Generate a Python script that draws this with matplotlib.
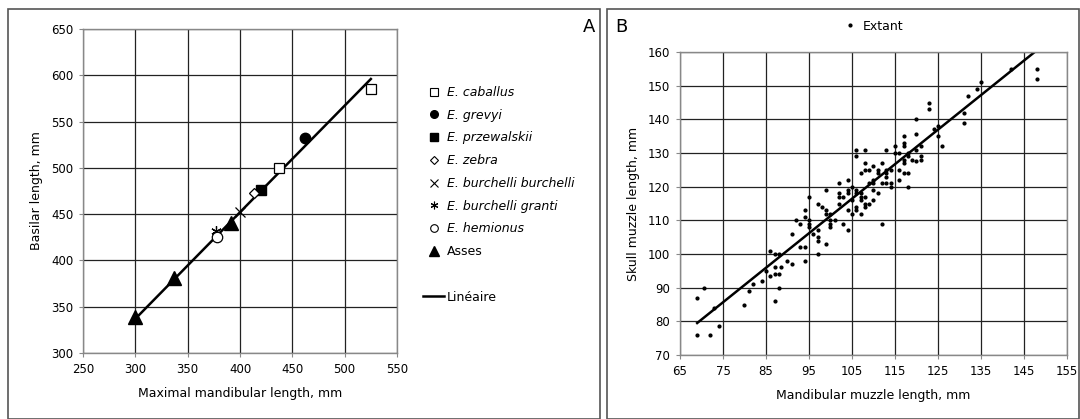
import matplotlib.pyplot as plt
from matplotlib.lines import Line2D
from matplotlib.patches import Rectangle

# Panel A: basilar length vs maximal mandibular length (mm)
caballus_x = [437, 525]
caballus_y = [500, 585]
grevyi_x = [462]
grevyi_y = [532]
przewalskii_x = [420]
przewalskii_y = [476]
zebra_x = [413]
zebra_y = [473]
burchelli_x = [400]
burchelli_y = [452]
granti_x = [377]
granti_y = [432]
hemionus_x = [378]
hemionus_y = [425]
asses_x = [300, 337, 391]
asses_y = [339, 381, 440]
fit_a_x = [300, 525]
fit_a_y = [337, 596]

# Panel B: skull muzzle vs mandibular muzzle length (mm)
extant_x = [69, 69, 70.5, 72, 73, 74, 80, 81, 82, 84, 85, 86, 86, 87, 87, 87, 87,
            88, 88, 88, 88.5, 90, 91, 91, 92, 93, 93, 94, 94, 94, 94, 95, 95, 95, 95,
            96, 97, 97, 97, 97, 97, 98, 99, 99, 99, 99, 100, 100, 100, 100, 101,
            102, 102, 102, 102, 103, 103, 104, 104, 104, 104, 104, 105, 105, 105,
            106, 106, 106, 106, 106, 106, 107, 107, 107, 107, 107, 108, 108, 108, 108,
            108, 108, 109, 109, 109, 110, 110, 110, 110, 110, 111, 111, 111, 112, 112,
            112, 113, 113, 113, 113, 113, 114, 114, 114, 115, 115, 116, 116, 116,
            117, 117, 117, 117, 117, 117, 118, 118, 118, 118, 119, 120, 120, 120, 120,
            121, 121, 121, 123, 123, 124, 125, 125, 126, 131, 131, 132, 134, 135,
            142, 148, 148]
extant_y = [87, 76, 90, 76, 84, 78.5, 85, 89, 91, 92, 95, 101, 93.5, 100, 96, 94, 86,
            100, 94, 90, 96, 98, 97, 106, 110, 109, 102, 102, 98, 111, 113, 117, 110,
            109, 108, 106, 115, 105, 104, 100, 107, 114, 119, 113, 112, 103, 112, 110,
            109, 108, 110, 121, 118, 117, 115, 117, 109, 122, 119, 118, 113, 107, 120,
            116, 112, 131, 129, 119, 118, 114, 113, 124, 117, 112, 116, 118, 131, 127,
            125, 117, 115, 114, 125, 121, 115, 126, 122, 121, 119, 116, 125, 124, 118,
            127, 121, 109, 131, 125, 124, 123, 121, 125, 121, 120, 132, 130, 130, 125,
            122, 135, 133, 132, 128, 127, 124, 130, 129, 124, 120, 128, 140, 135.5, 131,
            127.5, 132, 129, 128, 145, 143, 137, 138, 135, 132, 139, 142, 147, 149, 151,
            155, 155, 152]
fit_b_x = [69, 147.5]
fit_b_y = [79.5, 160]

plt.rcParams['font.family'] = ['DejaVu Sans']
plt.rcParams['font.size'] = 8.5

fig = plt.figure(figsize=(10.8, 4.19), dpi=100)

# panel frames
fig.patches.append(Rectangle((8 / 1080, 0), 592 / 1080, 1 - 9 / 419,
                             transform=fig.transFigure, fill=False,
                             edgecolor='#555555', linewidth=1.2))
fig.patches.append(Rectangle((607 / 1080, 0), 472 / 1080, 1 - 9 / 419,
                             transform=fig.transFigure, fill=False,
                             edgecolor='#555555', linewidth=1.2))


def style_axes(ax):
    ax.grid(True, color='#222222', linewidth=0.9)
    ax.set_axisbelow(True)
    for s in ax.spines.values():
        s.set_color('#888888')
        s.set_linewidth(1.0)
    ax.tick_params(length=3, width=0.8, color='#888888', labelsize=8.5, pad=4)


# ---- Panel A
ax1 = fig.add_axes([0.0769, 0.1575, 0.2907, 0.7733])
ms = 7.5
ax1.plot(fit_a_x, fit_a_y, color='black', linewidth=1.8, zorder=2)
ax1.plot(caballus_x, caballus_y, 's', ms=ms, mfc='white', mec='black', mew=0.9, zorder=3)
ax1.plot(grevyi_x, grevyi_y, 'o', ms=ms, color='black', zorder=3)
ax1.plot(przewalskii_x, przewalskii_y, 's', ms=ms, color='black', zorder=3)
ax1.plot(zebra_x, zebra_y, 'D', ms=5.5, mfc='white', mec='black', mew=0.9, zorder=3)
ax1.plot(burchelli_x, burchelli_y, 'x', ms=ms, color='black', mew=0.9, zorder=3)
ax1.plot(granti_x, granti_y, marker=(6, 2, 0), ms=ms, color='black', mew=0.9,
         linestyle='none', zorder=3)
ax1.plot(hemionus_x, hemionus_y, 'o', ms=ms, mfc='white', mec='black', mew=0.9, zorder=3)
ax1.plot(asses_x, asses_y, '^', ms=9.5, color='black', zorder=3)
ax1.set_xlim(250, 550)
ax1.set_ylim(300, 650)
ax1.set_xticks(range(250, 551, 50))
ax1.set_yticks(range(300, 651, 50))
style_axes(ax1)
ax1.set_xlabel('Maximal mandibular length, mm', fontsize=9, labelpad=8)
ax1.set_ylabel('Basilar length, mm', fontsize=9, labelpad=6)

lm = 5.5
handles = [
    Line2D([], [], marker='s', ls='none', ms=lm, mfc='white', mec='black', mew=0.8),
    Line2D([], [], marker='o', ls='none', ms=lm, color='black'),
    Line2D([], [], marker='s', ls='none', ms=lm, color='black'),
    Line2D([], [], marker='D', ls='none', ms=4.5, mfc='white', mec='black', mew=0.8),
    Line2D([], [], marker='x', ls='none', ms=lm, color='black', mew=0.8),
    Line2D([], [], marker=(6, 2, 0), ls='none', ms=lm, color='black', mew=0.8),
    Line2D([], [], marker='o', ls='none', ms=lm, mfc='white', mec='black', mew=0.8),
    Line2D([], [], marker='^', ls='none', ms=7, color='black'),
    Line2D([], [], ls='none'),
    Line2D([], [], color='black', linewidth=1.8),
]
labels = ['E. caballus', 'E. grevyi', 'E. przewalskii', 'E. zebra',
          'E. burchelli burchelli', 'E. burchelli granti', 'E. hemionus',
          'Asses', '', 'Linéaire']
leg = fig.legend(handles, labels, loc='upper left',
                 bbox_to_anchor=(418 / 1080, 1 - 81 / 419),
                 frameon=False, fontsize=9, labelspacing=0.78,
                 handlelength=1.7, handletextpad=0.2, borderaxespad=0)
for t in leg.get_texts()[:7]:
    t.set_style('italic')

fig.text(589 / 1080, 1 - 27 / 419, 'A', fontsize=13, ha='center', va='center')

# ---- Panel B
ax2 = fig.add_axes([0.6296, 0.1527, 0.3583, 0.7232])
ax2.plot(fit_b_x, fit_b_y, color='black', linewidth=1.8, zorder=2)
ax2.plot(extant_x, extant_y, '.', ms=4, color='black', zorder=3, label='Extant')
ax2.set_xlim(65, 155)
ax2.set_ylim(70, 160)
ax2.set_xticks(range(65, 156, 10))
ax2.set_yticks(range(70, 161, 10))
style_axes(ax2)
ax2.set_xlabel('Mandibular muzzle length, mm', fontsize=9, labelpad=8)
ax2.set_ylabel('Skull muzzle length, mm', fontsize=9, labelpad=6)
ax2.legend(loc='center', bbox_to_anchor=(0.5, 1.085), frameon=False,
           fontsize=9, handlelength=1.0, handletextpad=0.5, markerscale=1.0)

fig.text(621 / 1080, 1 - 27 / 419, 'B', fontsize=13, ha='center', va='center')

fig.savefig('out.png', dpi=100)
